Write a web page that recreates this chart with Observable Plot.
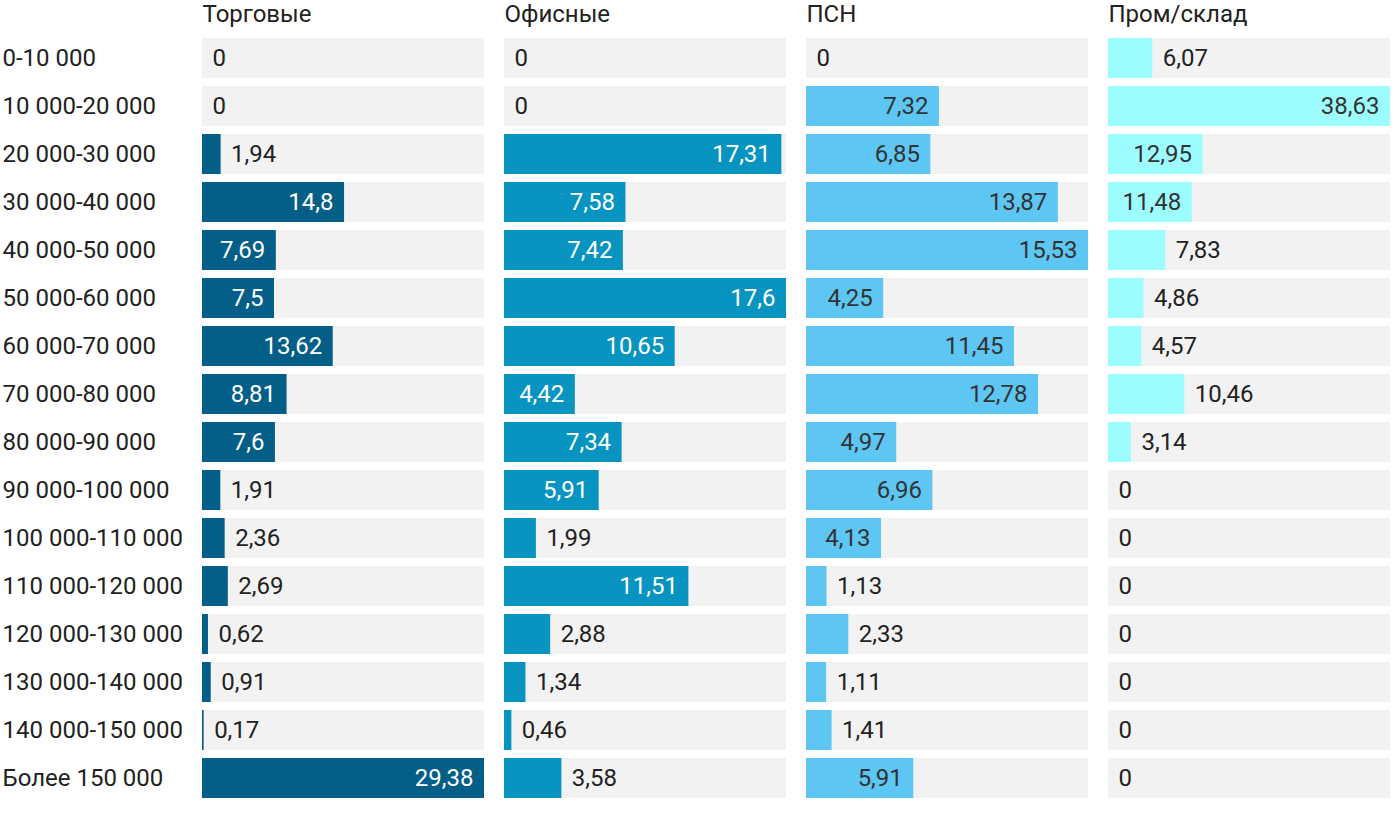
<!DOCTYPE html>
<html>
<head>
<meta charset="utf-8">
<script src="https://cdn.jsdelivr.net/npm/d3@7"></script>
<script src="https://cdn.jsdelivr.net/npm/@observablehq/plot@0.6"></script>
<style>
  body { margin: 0; background: #fff; }
  #chart { display: flex; flex-direction: row; width: 1400px; height: 814px; }
  #chart svg { display: block; }
</style>
</head>
<body>
<div id="chart"></div>
<script>
const categories = ["0-10 000","10 000-20 000","20 000-30 000","30 000-40 000","40 000-50 000","50 000-60 000","60 000-70 000","70 000-80 000","80 000-90 000","90 000-100 000","100 000-110 000","110 000-120 000","120 000-130 000","130 000-140 000","140 000-150 000","Более 150 000"];
const panelTitles = ["Торговые","Офисные","ПСН","Пром/склад"];
const torg = [0,0,1.94,14.8,7.69,7.5,13.62,8.81,7.6,1.91,2.36,2.69,0.62,0.91,0.17,29.38];
const ofis = [0,0,17.31,7.58,7.42,17.6,10.65,4.42,7.34,5.91,1.99,11.51,2.88,1.34,0.46,3.58];
const psn = [0,7.32,6.85,13.87,15.53,4.25,11.45,12.78,4.97,6.96,4.13,1.13,2.33,1.11,1.41,5.91];
const prom = [6.07,38.63,12.95,11.48,7.83,4.86,4.57,10.46,3.14,0,0,0,0,0,0,0];
const series = [torg, ofis, psn, prom];
const colors = ["#035f87","#0894c0","#5ec6f3","#9dfdfe"];
const insideTextColors = ["#ffffff","#ffffff","#333333","#333333"];

const FONT_SIZE = 24;
const ctx = document.createElement("canvas").getContext("2d");
ctx.font = FONT_SIZE + "px Roboto";
const textW = s => ctx.measureText(s).width;
const fmt = v => String(v).replace(".", ",");

const PANEL_W = 282;
const container = document.getElementById("chart");

series.forEach((values, i) => {
  const ml = i === 0 ? 202 : 20;
  const width = ml + PANEL_W;
  const max = d3.max(values);
  const xs = d3.scaleLinear([0, max], [ml, width]);
  const rows = categories.map((c, j) => {
    const v = values[j];
    const label = fmt(v);
    const inside = v > 0 && (xs(v) - xs(0)) >= textW(label) + 20;
    return {c, v, label, inside};
  });
  const marks = [
    Plot.barX(rows, {y: "c", x1: 0, x2: max, fill: "#f2f2f2"}),
    Plot.barX(rows, {y: "c", x: "v", fill: colors[i]}),
    Plot.text(rows.filter(d => d.inside), {y: "c", x: "v", text: "label", textAnchor: "end", dx: -11, fill: insideTextColors[i]}),
    Plot.text(rows.filter(d => !d.inside), {y: "c", x: "v", text: "label", textAnchor: "start", dx: 10, fill: "#222222"}),
    Plot.text([panelTitles[i]], {frameAnchor: "top-left", dy: -20, lineAnchor: "middle", text: d => d, textAnchor: "start", fill: "#222222"})
  ];
  if (i === 0) {
    marks.push(Plot.text(rows, {y: "c", frameAnchor: "left", dx: -200, text: "c", textAnchor: "start", fill: "#222222"}));
  }
  const plot = Plot.plot({
    width,
    height: 814,
    marginLeft: ml,
    marginRight: 0,
    marginTop: 34,
    marginBottom: 12,
    x: {domain: [0, max], axis: null},
    y: {domain: categories, axis: null, paddingInner: 1/6, paddingOuter: 1/12},
    style: {fontFamily: "Roboto", fontSize: FONT_SIZE + "px", background: "#fff", maxWidth: "none"},
    marks
  });
  container.appendChild(plot);
});
</script>
</body>
</html>
